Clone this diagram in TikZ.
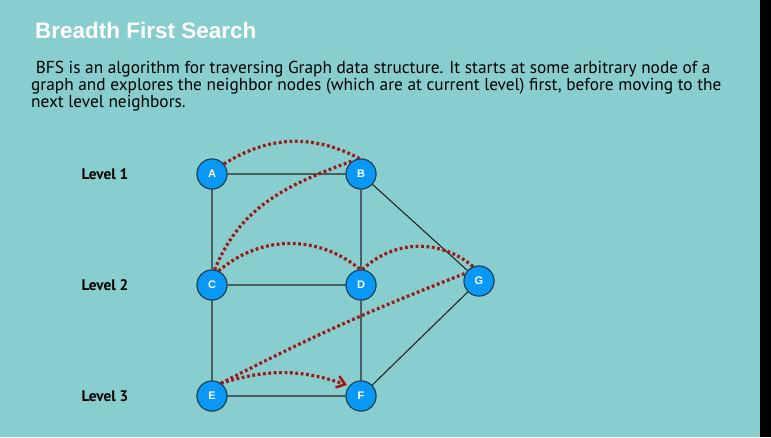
\documentclass[tikz,border=0pt]{standalone}
\usepackage{fontspec}
\setmainfont{Liberation Sans}
\newfontfamily\bodyfont{PT Sans}
\usetikzlibrary{arrows.meta}
\definecolor{bgteal}{HTML}{88CECE}
\definecolor{nodeblue}{HTML}{0A98F5}
\definecolor{nodeedge}{HTML}{1B3F55}
\definecolor{trail}{HTML}{A01818}
\begin{document}
\begin{tikzpicture}[x=1pt,y=-1pt,
  vert/.style={circle,fill=nodeblue,draw=nodeedge,line width=1pt,minimum size=30pt,inner sep=0pt,
    text=white,font=\fontsize{11}{11}\selectfont\bfseries},
  edge/.style={draw=black!85,line width=1.1pt},
  visit/.style={draw=trail,line width=3.2pt,dash pattern=on 2.8pt off 2.6pt},
  lvl/.style={anchor=west,font=\bodyfont\fontsize{15.3}{16}\selectfont\bfseries,text=black}]
\fill[bgteal] (0,0) rectangle (760,437);
\fill[black] (760,0) rectangle (771,437);
\useasboundingbox (0,0) rectangle (771,437);

\node[anchor=west,text=white,inner sep=0pt,font=\fontsize{22.5}{24}\selectfont\bfseries] (title) at (35,30) {Breadth First Search};
\node[anchor=north west,align=left,text=black,inner sep=0pt,
  font=\bodyfont\fontsize{17.3}{17.2}\selectfont] (intro) at (31,61)
  {\ BFS is an algorithm for traversing Graph data structure. It starts at some arbitrary node of a\\
   graph and explores the neighbor nodes (which are at current level) first, before moving to the\\
   next level neighbors.};

\node[lvl] (l1) at (78,174) {Level 1};
\node[lvl] (l2) at (78,285) {Level 2};
\node[lvl] (l3) at (78,396) {Level 3};

\node[vert] (A) at (212,174) {A};
\node[vert] (B) at (361,174) {B};
\node[vert] (C) at (212,285) {C};
\node[vert] (D) at (361,285) {D};
\node[vert] (G) at (479,281) {G};
\node[vert] (E) at (212,396) {E};
\node[vert] (F) at (361,396) {F};

\path[edge] (A) -- (B) (A) -- (C) (B) -- (D) (B) -- (G) (C) -- (D)
  (C) -- (E) (D) -- (F) (E) -- (F) (F) -- (G);

\draw[visit] (A.40) to[bend left=30] (B.95);
\draw[visit] (C.80) to[out=68,in=200] (B.120);
\draw[visit] (C.65) to[bend left=40] (D.92);
\draw[visit] (D.85) to[bend left=42] (G.112);
\draw[visit] (E.55) to[bend left=3] (G.150);
\draw[visit,-{Straight Barb[length=8pt,width=12pt,line width=2.6pt,line cap=butt]}]
  (E.55) to[bend left=18] ([xshift=-3pt]F.135);

\node[vert] at (A) {A};
\node[vert] at (B) {B};
\node[vert] at (C) {C};
\node[vert] at (D) {D};
\node[vert] at (G) {G};
\node[vert] at (E) {E};
\node[vert] at (F) {F};
\end{tikzpicture}
\end{document}
